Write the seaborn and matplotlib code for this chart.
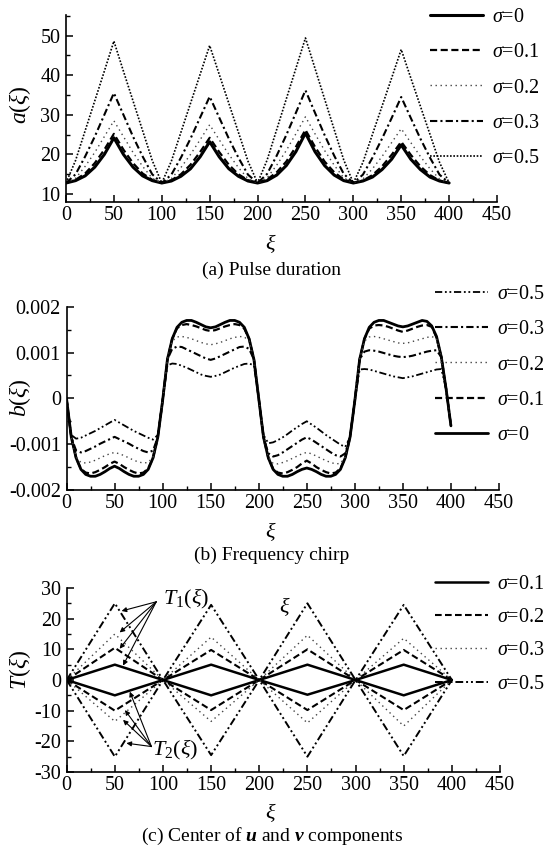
import numpy as np
import pandas as pd
import matplotlib
matplotlib.use("Agg")
import matplotlib.pyplot as plt
import seaborn as sns
from matplotlib.ticker import MultipleLocator, FixedLocator

# ---------------- data: panel (a) pulse duration ----------------
xi_a = np.arange(0, 401, 10)
a_s0 = [12.8, 13.4, 14.6, 16.8, 20.0, 24.2, 20.0, 16.8, 14.6, 13.4,
        12.8, 13.3, 14.5, 16.4, 19.4, 23.2, 19.4, 16.4, 14.5, 13.3,
        12.8, 13.4, 14.8, 17.2, 20.7, 25.4, 20.7, 17.2, 14.8, 13.4,
        12.8, 13.3, 14.3, 16.2, 18.8, 22.4, 18.8, 16.2, 14.3, 13.3, 12.8]
a_s1 = [12.8, 13.6, 15.2, 17.8, 21.2, 25.2, 21.2, 17.8, 15.2, 13.6,
        12.8, 13.5, 15.0, 17.4, 20.6, 24.2, 20.6, 17.4, 15.0, 13.5,
        12.8, 13.7, 15.5, 18.2, 21.9, 26.2, 21.9, 18.2, 15.5, 13.7,
        12.8, 13.4, 14.8, 17.0, 19.9, 23.2, 19.9, 17.0, 14.8, 13.4, 12.8]
a_s2 = [12.8, 14.0, 17.0, 20.5, 24.5, 28.5, 24.5, 20.5, 17.0, 14.0,
        12.8, 13.9, 16.7, 20.0, 23.7, 27.5, 23.7, 20.0, 16.7, 13.9,
        12.8, 14.1, 17.3, 21.0, 25.2, 29.5, 25.2, 21.0, 17.3, 14.1,
        12.8, 13.8, 16.4, 19.5, 23.0, 26.5, 23.0, 19.5, 16.4, 13.8, 12.8]
a_s3 = [12.8, 15.0, 19.5, 24.5, 30.0, 35.5, 30.0, 24.5, 19.5, 15.0,
        12.8, 14.9, 19.2, 24.0, 29.3, 34.6, 29.3, 24.0, 19.2, 14.9,
        12.8, 15.1, 19.7, 24.9, 30.5, 36.2, 30.5, 24.9, 19.7, 15.1,
        12.8, 14.9, 19.2, 24.0, 29.2, 34.5, 29.2, 24.0, 19.2, 14.9, 12.8]
a_s5 = [12.8, 18.5, 26.0, 33.5, 41.0, 48.6, 41.0, 33.5, 26.0, 18.5,
        12.8, 18.3, 25.6, 32.9, 40.2, 47.5, 40.2, 32.9, 25.6, 18.3,
        12.8, 18.6, 26.3, 34.0, 41.7, 49.4, 41.7, 34.0, 26.3, 18.6,
        12.8, 18.0, 25.1, 32.2, 39.3, 46.5, 39.3, 32.2, 25.1, 18.0, 12.8]

# ---------------- data: panel (b) frequency chirp (units of 1e-4) ----------------
xi_b = np.arange(0, 401, 5)
b_s0 = [0, -8.5, -13, -15.5, -16.6, -17, -17, -16.6, -16, -15.3, -14.8, -15.3, -16, -16.6, -17, -17, -16.6, -15.5, -13, -8.5,
        -0.5, 8.5, 13, 15.5, 16.6, 17, 17, 16.6, 16.1, 15.6, 15.4, 15.6, 16.1, 16.6, 17, 17, 16.6, 15.5, 13, 8.5,
        0, -8.5, -13, -15.5, -16.6, -17, -17, -16.6, -16, -15.5, -15.2, -15.5, -16, -16.6, -17, -17, -16.6, -15.5, -13, -8.5,
        -0.5, 8.5, 13, 15.5, 16.6, 17, 17, 16.6, 16.2, 15.8, 15.6, 15.8, 16.2, 16.6, 17, 16.8, 15.8, 13.5, 9, 2, -6]
b_s1 = [0, -8.5, -13, -15.4, -16.2, -16.4, -16.1, -15.6, -15, -14.3, -13.8, -14.3, -15, -15.6, -16.1, -16.4, -16.2, -15.3, -13, -8.5,
        -0.5, 8.5, 13, 15.3, 16, 16.2, 16, 15.7, 15.3, 14.9, 14.7, 14.9, 15.3, 15.7, 16, 16.2, 16, 15.2, 13, 8.5,
        0, -8.5, -13, -15.4, -16.2, -16.4, -16.1, -15.6, -15, -14.2, -13.6, -14.2, -15, -15.6, -16.1, -16.4, -16.2, -15.3, -13, -8.5,
        -0.5, 8.5, 13, 15.2, 15.9, 16, 15.9, 15.6, 15.2, 14.8, 14.5, 14.8, 15.2, 15.6, 15.9, 16, 15.6, 13.3, 9, 2, -6]
b_s2 = [0, -8.5, -12.8, -14, -14.1, -13.9, -13.5, -13, -12.5, -12.1, -11.8, -12.1, -12.5, -13, -13.5, -13.9, -14.1, -14, -12.8, -8.5,
        -0.5, 8.5, 12.5, 13.4, 13.5, 13.3, 13, 12.6, 12.2, 11.9, 11.7, 11.9, 12.2, 12.6, 13, 13.3, 13.5, 13.4, 12.5, 8.5,
        0, -8.5, -12.8, -14.2, -14.3, -14, -13.6, -13.1, -12.6, -12.1, -11.8, -12.1, -12.6, -13.1, -13.6, -14, -14.3, -14.2, -12.8, -8.5,
        -0.5, 8.5, 12.5, 13.4, 13.5, 13.3, 13, 12.7, 12.4, 12.1, 12, 12.1, 12.4, 12.7, 13, 13.3, 13.5, 13, 9, 2, -6]
b_s3 = [0, -8.5, -11.4, -11.8, -11.5, -11, -10.5, -9.9, -9.4, -8.9, -8.4, -8.9, -9.4, -9.9, -10.5, -11, -11.5, -11.8, -11.4, -8.5,
        -0.5, 8.5, 10.8, 11.3, 11.2, 10.7, 10.2, 9.7, 9.2, 8.7, 8.4, 8.7, 9.2, 9.7, 10.2, 10.7, 11.2, 11.3, 10.8, 8.5,
        0, -8.5, -12, -12.7, -12.4, -11.8, -11.1, -10.4, -9.7, -9, -8.5, -9, -9.7, -10.4, -11.1, -11.8, -12.4, -12.7, -12, -8.5,
        -0.5, 8.5, 10.2, 10.5, 10.4, 10.2, 9.9, 9.6, 9.3, 9.1, 9, 9.1, 9.3, 9.6, 9.9, 10.2, 10.4, 10.5, 9, 2, -6]
b_s5 = [0, -8, -8.8, -8.6, -8.1, -7.6, -7.1, -6.5, -5.9, -5.3, -4.7, -5.3, -5.9, -6.5, -7.1, -7.6, -8.1, -8.6, -9, -8,
        -0.5, 7.2, 7.6, 7.5, 7.1, 6.7, 6.2, 5.7, 5.2, 4.9, 4.7, 4.9, 5.2, 5.7, 6.2, 6.7, 7.1, 7.5, 7.6, 7.2,
        0, -8, -9.8, -9.6, -9.1, -8.5, -7.8, -7, -6.3, -5.6, -5, -5.7, -6.4, -7.2, -8, -8.7, -9.4, -10.1, -10.6, -8.5,
        -0.5, 6.3, 6.4, 6.3, 6, 5.7, 5.4, 5.1, 4.8, 4.6, 4.4, 4.6, 4.8, 5.1, 5.4, 5.7, 6, 6.3, 6.4, 2, -6]
b_unit = 1e-4

# ---------------- data: panel (c) centres T1, T2 ----------------
xi_c = np.arange(0, 401, 50)
T1_s1 = [0, 5, 0, 5, 0, 5, 0, 5, 0]
T1_s2 = [0, 10.5, 0, 9.8, 0, 10, 0, 9.8, 0]
T1_s3 = [0, 15, 0, 14, 0, 14.6, 0, 13.6, 0]
T1_s5 = [0, 25, 0, 24.5, 0, 25, 0, 24.5, 0]
T2_s1 = [0, -5, 0, -5, 0, -4.8, 0, -5, 0]
T2_s2 = [0, -10, 0, -9.8, 0, -9.8, 0, -9.8, 0]
T2_s3 = [0, -13.5, 0, -13.5, 0, -14, 0, -15, 0]
T2_s5 = [0, -25, 0, -24.5, 0, -25, 0, -24.8, 0]

x_ticks = [0, 50, 100, 150, 200, 250, 300, 350, 400, 450]
a_ticks = [10, 20, 30, 40, 50]
b_ticks = [-0.002, -0.001, 0, 0.001, 0.002]
b_ticklabels = ["-0.002", "-0.001", "0", "0.001", "0.002"]
c_ticks = [-30, -20, -10, 0, 10, 20, 30]

# ---------------- style ----------------
sns.set_style("ticks")
plt.rcParams.update({
    "font.family": ["Liberation Serif", "DejaVu Serif"],
    "mathtext.fontset": "custom",
    "mathtext.rm": "Liberation Serif",
    "mathtext.it": "Liberation Serif:italic",
    "mathtext.bf": "Liberation Serif:italic:bold",
    "axes.unicode_minus": False,
    "axes.linewidth": 1.2,
    "xtick.direction": "in",
    "ytick.direction": "in",
    "xtick.color": "black",
    "ytick.color": "black",
    "text.color": "black",
    "axes.edgecolor": "black",
})

W, H = 544, 849
fig = plt.figure(figsize=(W / 100, H / 100), dpi=100)


def add_ax(left, right, top, bottom):
    return fig.add_axes([left / W, 1 - bottom / H, (right - left) / W, (bottom - top) / H])


axA = add_ax(66, 497, 15, 202)
axB = add_ax(66.5, 499, 306.7, 490)
axC = add_ax(66.7, 500, 588, 772)

SOLID = "-"
DASH = (0, (3.2, 1.6))
DOT = (0, (1, 2.6))
DENSEDOT = (0, (1, 1))
DASHDOT = (0, (3.5, 1.5, 1, 1.5))
DASHDOTDOT = (0, (4, 1.5, 1, 1.5, 1, 1.5))


def draw(ax, x, y, ls, lw, color="black", label=None):
    sns.lineplot(x=np.asarray(x), y=np.asarray(y), ax=ax, color=color, linestyle=ls,
                 linewidth=lw, estimator=None, sort=False, label=label)
    return ax.lines[-1]


def style_axis(ax, ylim, yticks, yminor, ylabels=None):
    ax.set_xlim(0, 450)
    ax.set_ylim(*ylim)
    ax.xaxis.set_major_locator(FixedLocator(x_ticks))
    ax.xaxis.set_minor_locator(MultipleLocator(25))
    ax.yaxis.set_major_locator(FixedLocator(yticks))
    ax.yaxis.set_minor_locator(MultipleLocator(yminor))
    if ylabels is not None:
        ax.set_yticklabels(ylabels)
    ax.tick_params(which="major", length=5, width=1.1, labelsize=14.5, pad=3)
    ax.tick_params(which="minor", length=3, width=1.0)
    ax.tick_params(axis="y", which="major", pad=4)
    sns.despine(ax=ax)
    ax.set_xlabel("")
    ax.set_ylabel("")
    ax.set_facecolor("white")


# ---- panel a ----
hA = [draw(axA, xi_a, a_s0, SOLID, 2.2, label=r"$\sigma$=0"),
      draw(axA, xi_a, a_s1, DASH, 1.6, label=r"$\sigma$=0.1"),
      draw(axA, xi_a, a_s2, DOT, 1.0, color="#444444", label=r"$\sigma$=0.2"),
      draw(axA, xi_a, a_s3, DASHDOT, 1.5, label=r"$\sigma$=0.3"),
      draw(axA, xi_a, a_s5, DENSEDOT, 1.2, label=r"$\sigma$=0.5")]
style_axis(axA, (8, 55.2), a_ticks, 5)

# ---- panel b ----
bb = lambda v: np.asarray(v) * b_unit
hB = [draw(axB, xi_b, bb(b_s0), SOLID, 2.0, label=r"$\sigma$=0"),
      draw(axB, xi_b, bb(b_s1), DASH, 1.6, label=r"$\sigma$=0.1"),
      draw(axB, xi_b, bb(b_s2), DOT, 1.0, color="#444444", label=r"$\sigma$=0.2"),
      draw(axB, xi_b, bb(b_s3), DASHDOT, 1.5, label=r"$\sigma$=0.3"),
      draw(axB, xi_b, bb(b_s5), DASHDOTDOT, 1.3, label=r"$\sigma$=0.5")]
style_axis(axB, (-0.002, 0.002), b_ticks, 0.0005, b_ticklabels)

# ---- panel c ----
hC = [draw(axC, xi_c, T1_s1, SOLID, 1.8, label=r"$\sigma$=0.1"),
      draw(axC, xi_c, T1_s2, DASH, 1.5, label=r"$\sigma$=0.2"),
      draw(axC, xi_c, T1_s3, DOT, 1.0, color="#444444", label=r"$\sigma$=0.3"),
      draw(axC, xi_c, T1_s5, DASHDOTDOT, 1.4, label=r"$\sigma$=0.5")]
draw(axC, xi_c, T2_s1, SOLID, 1.8)
draw(axC, xi_c, T2_s2, DASH, 1.5)
draw(axC, xi_c, T2_s3, DOT, 1.0, color="#444444")
draw(axC, xi_c, T2_s5, DASHDOTDOT, 1.4)
style_axis(axC, (-30, 30), c_ticks, 5)

# ---- legends ----
def legend(ax, handles, x_px, top_px, spacing):
    leg = ax.legend(handles=handles, labels=[h.get_label() for h in handles],
                    loc="upper left", bbox_to_anchor=(x_px / W, 1 - top_px / H),
                    bbox_transform=fig.transFigure, frameon=False, fontsize=14.5,
                    handlelength=2.65, handletextpad=0.45, labelspacing=spacing,
                    borderpad=0, borderaxespad=0)
    return leg

legend(axA, hA, 430, 8, 0.8)
legend(axB, hB[::-1], 435, 285, 0.8)
legend(axC, hC, 435, 575, 0.7)

# ---- annotations panel c ----
arrow_kw = dict(arrowstyle="-|>", color="black", lw=0.8, mutation_scale=7, shrinkA=0, shrinkB=0)
t1_tips = [(57, 22.5), (55, 15.5), (55, 10.2), (58.5, 4.7)]
for tip in t1_tips:
    axC.annotate("", xy=tip, xytext=(93, 25.5), arrowprops=arrow_kw)
axC.text(100, 26.3, r"$T_1(\xi)$", fontsize=16, va="center", ha="left")
t2_tips = [(65.5, -3.8), (60.5, -9.8), (58.5, -13), (62, -20.6)]
for tip in t2_tips:
    axC.annotate("", xy=tip, xytext=(88, -21.7), arrowprops=arrow_kw)
axC.text(88.5, -22.8, r"$T_2(\xi)$", fontsize=16, va="center", ha="left")
axC.text(226, 24, r"$\xi$", fontsize=16, va="center", ha="center")

# ---- axis labels & captions ----
fig.text(20 / W, 1 - 105 / H, r"$a(\xi)$", rotation=90, fontsize=17, ha="center", va="center")
fig.text(20 / W, 1 - 398 / H, r"$b(\xi)$", rotation=90, fontsize=17, ha="center", va="center")
fig.text(20 / W, 1 - 670 / H, r"$T(\xi)$", rotation=90, fontsize=17, ha="center", va="center")
for yx in (244, 532, 813):
    fig.text(271 / W, 1 - yx / H, r"$\xi$", fontsize=16, ha="center", va="center")
fig.text(272 / W, 1 - 270 / H, "(a) Pulse duration", fontsize=14, ha="center", va="center")
fig.text(272 / W, 1 - 555 / H, "(b) Frequency chirp", fontsize=14, ha="center", va="center")
fig.text(272 / W, 1 - 836 / H, r"(c) Center of $\mathbf{u}$ and $\mathbf{v}$ components",
         fontsize=14, ha="center", va="center")

fig.savefig("out.png", dpi=100, facecolor="white")
